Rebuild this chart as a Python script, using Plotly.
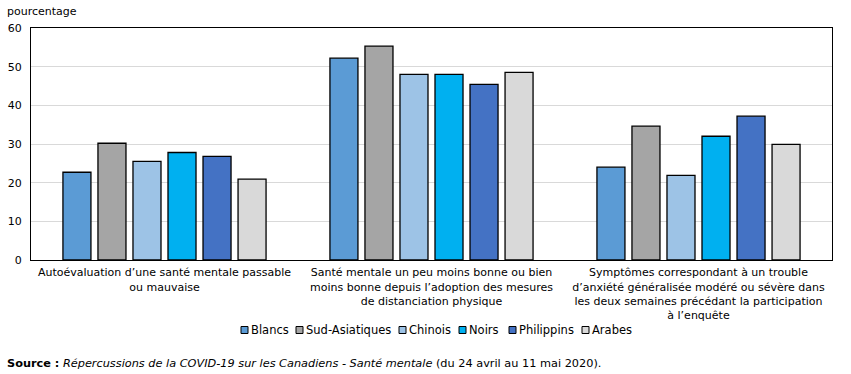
import plotly.graph_objects as go

categories = [
    "Autoévaluation d’une santé mentale passable<br>ou mauvaise",
    "Santé mentale un peu moins bonne ou bien<br>moins bonne depuis l’adoption des mesures<br>de distanciation physique",
    "Symptômes correspondant à un trouble<br>d’anxiété généralisée modéré ou sévère dans<br>les deux semaines précédant la participation<br>à l’enquête",
]
series_names = ["Blancs", "Sud-Asiatiques", "Chinois", "Noirs", "Philippins", "Arabes"]
blancs = [22.7, 52.2, 24.0]
sud_asiatiques = [30.2, 55.3, 34.6]
chinois = [25.5, 48.0, 21.9]
noirs = [27.8, 48.0, 32.0]
philippins = [26.8, 45.4, 37.2]
arabes = [20.9, 48.5, 29.9]
colors = ["#5B9BD5", "#A5A5A5", "#9DC3E6", "#00B0F0", "#4472C4", "#D9D9D9"]
y_ticks = [0, 10, 20, 30, 40, 50, 60]

values = [blancs, sud_asiatiques, chinois, noirs, philippins, arabes]
font_family = "DejaVu Sans, Verdana, sans-serif"

W, H = 851, 374
L, R, T, B = 31, 19, 28, 114
PW, PH = W - L - R, H - T - B


def px_x(px):
    return (px - L) / PW


def px_y(py):
    return (H - B - py) / PH


fig = go.Figure()
for name, vals, col in zip(series_names, values, colors):
    fig.add_trace(go.Bar(
        x=categories, y=vals, name=name, showlegend=False,
        marker=dict(color=col, line=dict(color="#000000", width=1.3)),
    ))

# custom compact legend (layout positions in pixels)
legend_square_x = [241, 296, 399, 459, 509, 582]
legend_y = 330
shapes = []
annotations = []
for name, col, sx in zip(series_names, colors, legend_square_x):
    shapes.append(dict(type="rect", xref="paper", yref="paper",
                       x0=px_x(sx), x1=px_x(sx + 7),
                       y0=px_y(legend_y + 3.5), y1=px_y(legend_y - 3.5),
                       fillcolor=col, line=dict(color="#000000", width=1)))
    annotations.append(dict(text=name, xref="paper", yref="paper",
                            x=px_x(sx + 8), y=px_y(legend_y), xanchor="left",
                            yanchor="middle", showarrow=False,
                            font=dict(size=11.5)))

annotations += [
    dict(text="pourcentage", xref="paper", yref="paper", x=px_x(5), y=px_y(11),
         xanchor="left", yanchor="middle", showarrow=False, font=dict(size=11)),
    dict(text="<b>Source :</b> <i>Répercussions de la COVID-19 sur les Canadiens - Santé mentale</i> (du 24 avril au 11 mai 2020).",
         xref="paper", yref="paper", x=px_x(5), y=px_y(363),
         xanchor="left", yanchor="middle", showarrow=False, font=dict(size=11.3)),
]

fig.update_layout(
    width=W, height=H,
    margin=dict(l=L, r=R, t=T, b=B),
    paper_bgcolor="white", plot_bgcolor="white",
    font=dict(family=font_family, size=11, color="#000000"),
    barmode="group", bargap=0.213, bargroupgap=0.2,
    showlegend=False,
    xaxis=dict(showline=True, linecolor="#000000", linewidth=1.3, mirror=True,
               ticks="", tickfont=dict(size=11), showgrid=False,
               automargin=False, ticklabelstandoff=2),
    yaxis=dict(range=[0, 60], tickvals=y_ticks, showline=True, linecolor="#000000",
               linewidth=1.3, mirror=True, showgrid=True, gridcolor="#D9D9D9",
               gridwidth=1, ticks="", tickfont=dict(size=11), zeroline=False,
               automargin=False, ticklabelstandoff=6),
    shapes=shapes,
    annotations=annotations,
)

fig.write_html("out.html")
